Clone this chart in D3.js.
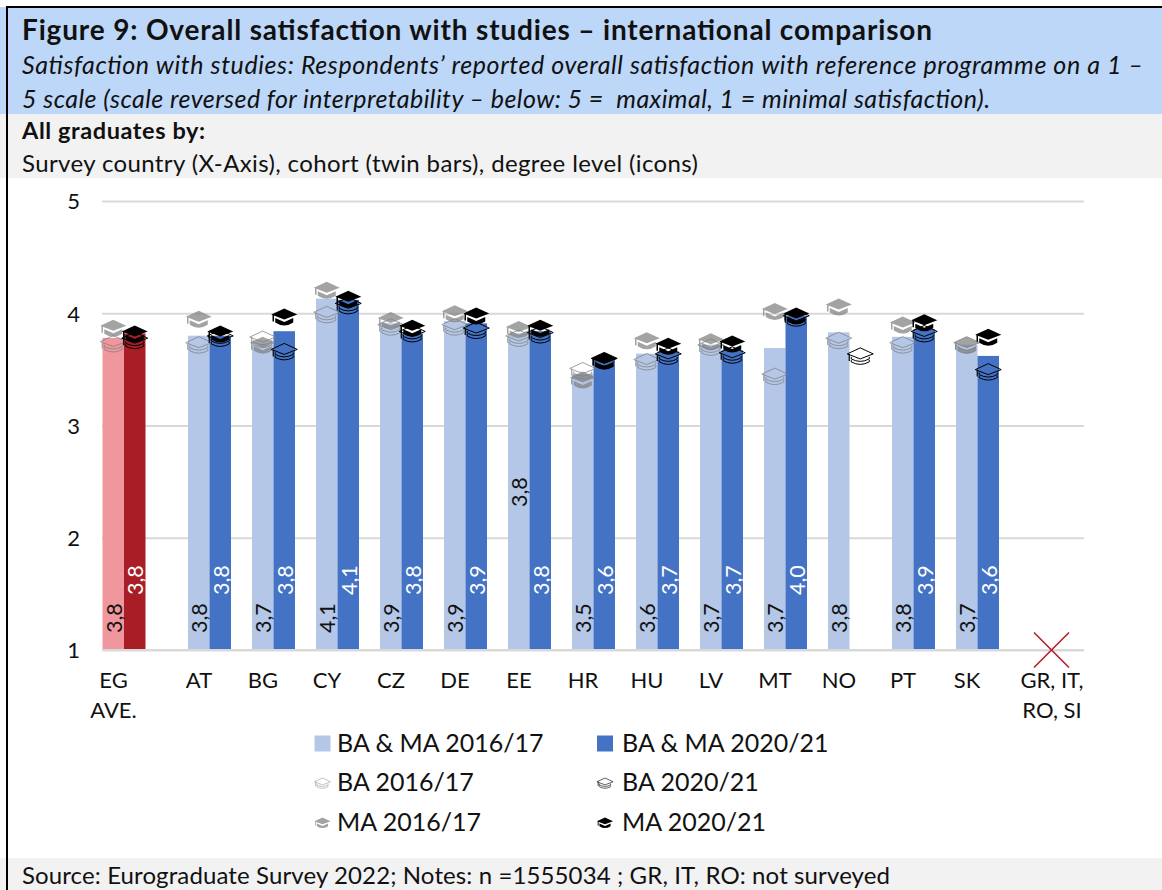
<!DOCTYPE html>
<html>
<head>
<meta charset="utf-8">
<script src="https://cdn.jsdelivr.net/npm/d3@7"></script>
<style>
  html, body { margin: 0; padding: 0; background: #fff; }
  svg { display: block; }
  text { font-family: Lato, "Open Sans", sans-serif; fill: #111; }
</style>
</head>
<body>
<div id="chart"></div>
<script>
var width = 1162, height = 890;

// values
var countries = ["EG", "AT", "BG", "CY", "CZ", "DE", "EE", "HR", "HU", "LV", "MT", "NO", "PT", "SK", "GR"];
var tickLabels = [["EG", "AVE."], ["AT"], ["BG"], ["CY"], ["CZ"], ["DE"], ["EE"], ["HR"], ["HU"], ["LV"], ["MT"], ["NO"], ["PT"], ["SK"], ["GR, IT,", "RO, SI"]];
var all1617 = [3.78, 3.80, 3.72, 4.13, 3.91, 3.93, 3.82, 3.46, 3.64, 3.72, 3.69, 3.83, 3.79, 3.72, null];
var all2021 = [3.82, 3.80, 3.84, 4.12, 3.82, 3.91, 3.84, 3.60, 3.66, 3.67, 3.98, null, 3.86, 3.62, null];
var ba1617 = [3.73, 3.72, 3.77, 3.99, 3.88, 3.88, 3.78, 3.49, 3.57, 3.70, 3.44, 3.76, 3.72, 3.72, null];
var ba2021 = [3.76, 3.78, 3.66, 4.07, 3.82, 3.85, 3.81, 3.58, 3.62, 3.63, 3.96, 3.62, 3.82, 3.48, null];
var ma1617 = [3.87, 3.95, 3.72, 4.21, 3.94, 4.00, 3.86, 3.41, 3.76, 3.75, 4.02, 4.06, 3.90, 3.72, null];
var ma2021 = [3.82, 3.82, 3.97, 4.13, 3.87, 3.98, 3.87, 3.58, 3.71, 3.73, 3.98, null, 3.92, 3.79, null];
var yTicks = [1, 2, 3, 4, 5];

var svg = d3.select("#chart")
  .append("svg")
    .attr("width", width)
    .attr("height", height);

// header and footer bands
svg.append("rect").attr("x", 0).attr("y", 7).attr("width", width).attr("height", 107).attr("fill", "#BDD7F9");
svg.append("rect").attr("x", 0).attr("y", 114).attr("width", width).attr("height", 64).attr("fill", "#F2F2F2");
svg.append("rect").attr("x", 0).attr("y", 858).attr("width", width).attr("height", 32).attr("fill", "#F2F2F2");
svg.append("path").attr("d", "M7,890V7H" + width).attr("fill", "none").attr("stroke", "#000").attr("stroke-width", 2);

// textLength keeps the long lines as wide as in the reference
function line(txt, y, size, w, weight, style) {
  svg.append("text").attr("x", 22).attr("y", y).text(txt)
    .attr("textLength", w)
    .style("white-space", "pre")
    .style("font-size", size + "px")
    .style("font-weight", weight || "normal")
    .style("font-style", style || "normal");
}
line("Figure 9: Overall satisfaction with studies – international comparison", 40, 28, 910, "bold");
line("Satisfaction with studies: Respondents’ reported overall satisfaction with reference programme on a 1 –", 74, 25, 1121, "normal", "italic");
line("5 scale (scale reversed for interpretability – below: 5 =  maximal, 1 = minimal satisfaction).", 108, 25, 968, "normal", "italic");
line("All graduates by:", 139, 23.5, 183, "bold");
line("Survey country (X-Axis), cohort (twin bars), degree level (icons)", 172, 24, 676);
line("Source: Eurograduate Survey 2022; Notes: n =1555034 ; GR, IT, RO: not surveyed", 884, 24, 868);

// scales
var y = d3.scaleLinear().domain([1, 5]).range([650, 201]);
var x = d3.scalePoint().domain(countries.slice(1, 14)).range([209.5, 977.5]);
var cohort = d3.scaleBand().domain(["1617", "2021"]).range([-21.5, 21.5]);
var fmt = d3.formatLocale({ decimal: ",", thousands: ".", grouping: [3], currency: ["", ""] }).format(".1f");

function cx(c) {
  if (c == "EG") return 124;
  if (c == "GR") return 1051.5;
  return x(c);
}
function labelX(c) {
  if (c == "GR") return 1052;
  return cx(c) - 10.5;
}

// y axis with gridlines
var yAxis = d3.axisLeft(y).tickValues(yTicks).tickSize(-982).tickFormat(d3.format("d"));
var gy = svg.append("g").attr("transform", "translate(102,0)").call(yAxis);
gy.select(".domain").remove();
gy.selectAll("line").attr("stroke", "#D9D9D9").attr("stroke-width", 2);
gy.selectAll("text").attr("x", -22).attr("dy", "0.36em").style("font-size", "22px").style("font-family", "Lato");

// bars
var rows = countries.map(function(c, i) {
  return { c: c, a: all1617[i], b: all2021[i], ba16: ba1617[i], ba20: ba2021[i], ma16: ma1617[i], ma20: ma2021[i], label: tickLabels[i] };
});

function barColor(d, k) {
  if (d.c == "EG") return k == "1617" ? "#F0979E" : "#A91D27";
  return k == "1617" ? "#B4C7E7" : "#4472C4";
}

var groups = svg.append("g").selectAll("g")
    .data(rows)
  .enter().append("g")
    .attr("transform", function(d) { return "translate(" + cx(d.c) + ",0)"; });

[["1617", "a"], ["2021", "b"]].forEach(function(k) {
  groups.filter(function(d) { return d[k[1]] != null; })
    .append("rect")
      .attr("x", cohort(k[0]))
      .attr("width", cohort.bandwidth())
      .attr("y", function(d) { return y(d[k[1]]); })
      .attr("height", function(d) { return y(1) - y(d[k[1]]); })
      .attr("fill", function(d) { return barColor(d, k[0]); });
});

// baseline sits on top of the bars
svg.append("line").attr("x1", 102).attr("x2", 1084).attr("y1", y(1)).attr("y2", y(1)).attr("stroke", "#D9D9D9").attr("stroke-width", 2);

// data labels, rotated
function dataLabel(sel, key, dx, color, bottom) {
  sel.filter(function(d) { return d[key] != null; })
    .append("text")
      .attr("transform", function(d) {
        var b = bottom;
        if (d.c == "EE" && key == "a") b = 507;
        return "translate(" + dx + "," + b + ") rotate(-90)";
      })
      .text(function(d) { return fmt(d[key]); })
      .style("font-size", "21.5px")
      .style("fill", color);
}
dataLabel(groups, "a", cohort("1617") + cohort.bandwidth() / 2 + 8.5, "#111", 633);
dataLabel(groups, "b", cohort("2021") + cohort.bandwidth() / 2 + 8.5, "#fff", 595);

// graduation cap icons
var capStyles = {
  ba16: { filled: false, color: "#808080", opacity: 0.75 },
  ba20: { filled: false, color: "#000", opacity: 1 },
  ma16: { filled: true, color: "#808080", opacity: 0.72 },
  ma20: { filled: true, color: "#000", opacity: 1 }
};

function drawCap(g, kind) {
  var s = capStyles[kind];
  g.attr("opacity", s.opacity);
  if (s.filled) {
    g.append("path").attr("d", "M-13,-2L0,-8L13,-2L0,3Z").attr("fill", s.color);
    g.append("path").attr("d", "M-9,1.5L0,5.5L9,1.5L9,6Q0,12 -9,6Z").attr("fill", s.color);
    g.append("path").attr("d", "M-11,-2V5").attr("stroke", s.color).attr("stroke-width", 1.5);
  } else {
    g.append("path").attr("d", "M-13,-2L0,-8L13,-2L0,3Z").attr("fill", "none").attr("stroke", s.color);
    g.append("path").attr("d", "M-9,1V3Q0,8 9,3V1").attr("fill", "none").attr("stroke", s.color);
    g.append("path").attr("d", "M-9,4V6Q0,11 9,6V4").attr("fill", "none").attr("stroke", s.color);
    g.append("path").attr("d", "M-11,-2V5").attr("stroke", s.color).attr("stroke-width", 1.2);
  }
}

[["ba16", "1617"], ["ma16", "1617"], ["ba20", "2021"], ["ma20", "2021"]].forEach(function(k) {
  groups.filter(function(d) { return d[k[0]] != null; })
    .append("g")
      .attr("transform", function(d) {
        return "translate(" + (cohort(k[1]) + cohort.bandwidth() / 2) + "," + y(d[k[0]]) + ")";
      })
      .each(function() { drawCap(d3.select(this), k[0]); });
});

// x labels
var xl = svg.append("g").selectAll("text")
    .data(rows)
  .enter().append("text")
    .attr("text-anchor", "middle")
    .attr("y", 688)
    .style("font-size", "22px");
xl.selectAll("tspan")
    .data(function(d) { return d.label.map(function(t) { return { t: t, c: d.c }; }); })
  .enter().append("tspan")
    .attr("x", function(d) { return labelX(d.c); })
    .attr("dy", function(d, i) { return i ? 30 : 0; })
    .text(function(d) { return d.t; });

// red cross over the not surveyed group
var crossSize = 17.5;
svg.append("path")
  .attr("d", "M" + (cx("GR") - crossSize) + "," + (y(1) - crossSize) + "L" + (cx("GR") + crossSize) + "," + (y(1) + crossSize)
    + "M" + (cx("GR") + crossSize) + "," + (y(1) - crossSize) + "L" + (cx("GR") - crossSize) + "," + (y(1) + crossSize))
  .attr("stroke", "#B2202E").attr("stroke-width", 1.6).attr("fill", "none");

// legend
var legendItems = [
  { name: "BA & MA 2016/17", col: 0, row: 0, swatch: "#B4C7E7" },
  { name: "BA & MA 2020/21", col: 1, row: 0, swatch: "#4472C4" },
  { name: "BA 2016/17", col: 0, row: 1, cap: "ba16" },
  { name: "BA 2020/21", col: 1, row: 1, cap: "ba20" },
  { name: "MA 2016/17", col: 0, row: 2, cap: "ma16" },
  { name: "MA 2020/21", col: 1, row: 2, cap: "ma20" }
];
var lg = svg.append("g").selectAll("g")
    .data(legendItems)
  .enter().append("g")
    .attr("transform", function(d) { return "translate(" + (d.col ? 605 : 322.5) + "," + (743.5 + d.row * 39.5) + ")"; });
lg.filter(function(d) { return d.swatch; }).append("rect")
    .attr("x", -8).attr("y", -8).attr("width", 16).attr("height", 16)
    .attr("fill", function(d) { return d.swatch; });
lg.filter(function(d) { return d.cap; }).append("g")
    .attr("transform", "scale(0.62)")
    .each(function(d) { drawCap(d3.select(this), d.cap); });
lg.append("text")
    .attr("x", function(d) { return d.col ? 17 : 14.5; })
    .attr("y", 8)
    .text(function(d) { return d.name; })
    .style("font-size", "25px");
</script>
</body>
</html>
